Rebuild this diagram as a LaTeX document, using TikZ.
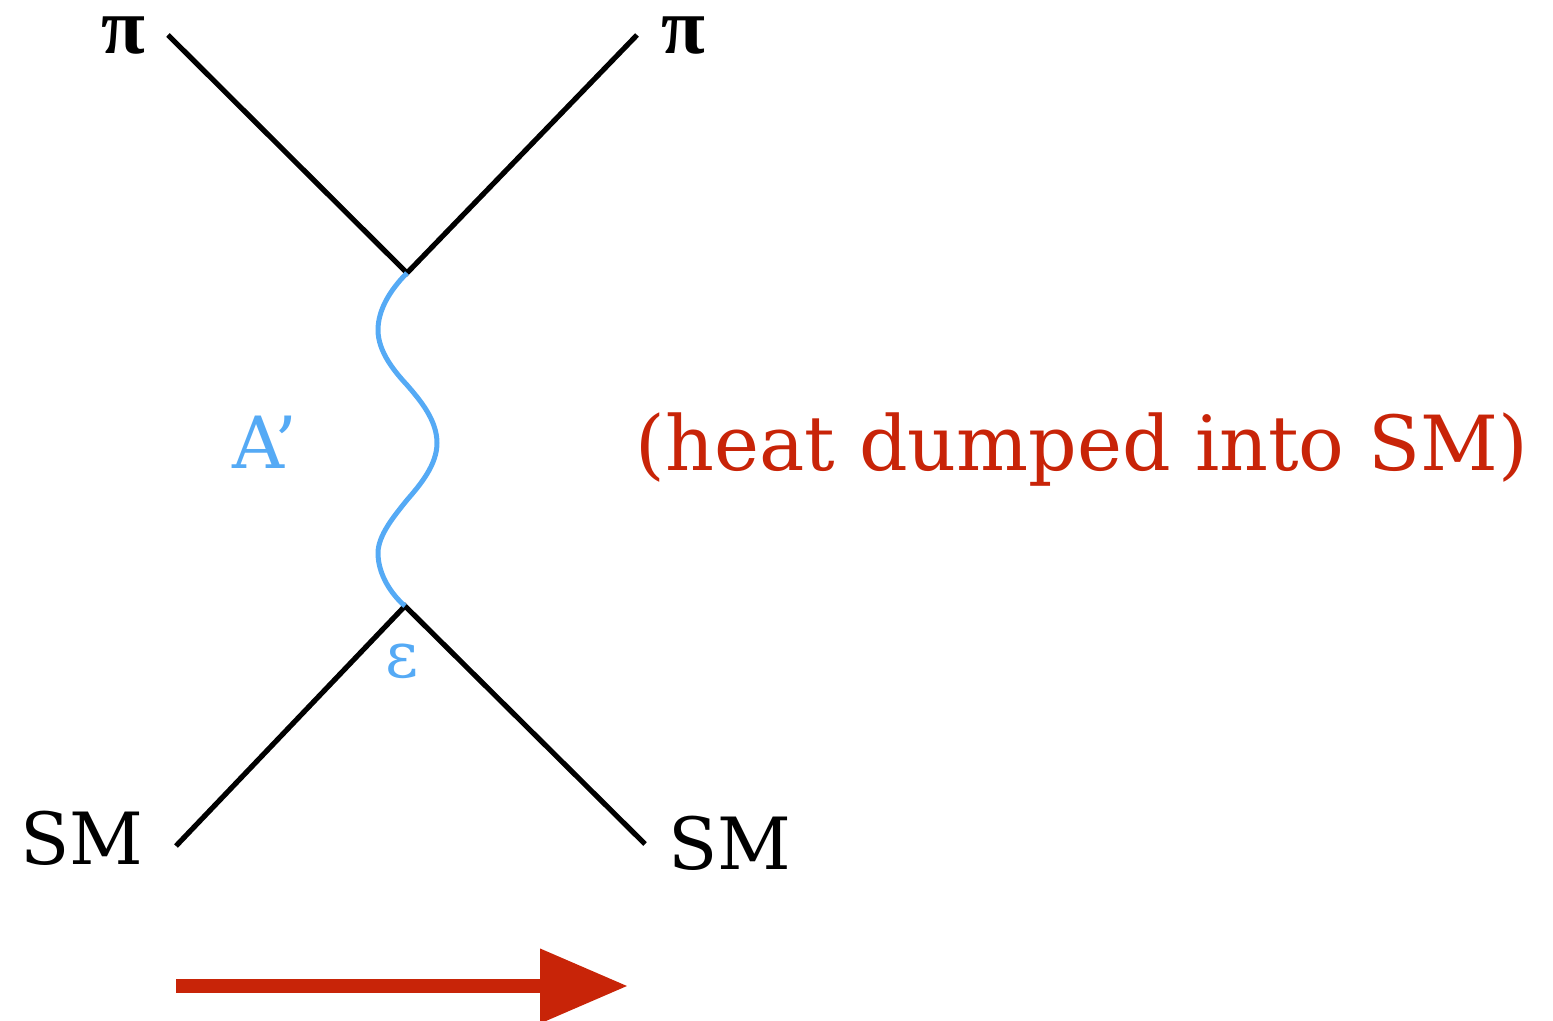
\documentclass[tikz,border=0pt]{standalone}
\usepackage{fontspec}
\setmainfont{DejaVu Serif}
\newfontfamily\pifont{Liberation Serif}
\usetikzlibrary{arrows.meta}
\definecolor{wblue}{RGB}{85,170,245}
\definecolor{hred}{RGB}{200,36,8}
\tikzset{
  leg/.style={draw=black,line width=2.6pt},
  wave/.style={draw=wblue,line width=2.5pt},
  lbl/.style={inner sep=0pt,font=\fontsize{36}{40}\selectfont},
  greek/.style={inner sep=0pt,font=\pifont\bfseries\fontsize{40}{44}\selectfont},
}
\begin{document}
\begin{tikzpicture}[x=0.5pt,y=-0.5pt]
\useasboundingbox (0,0) rectangle (1553,1021);
\coordinate (v1) at (407,273);
\coordinate (v2) at (405,606);
\coordinate (tl) at (168,35);
\coordinate (tr) at (637,35);
\coordinate (bl) at (176,846);
\coordinate (br) at (645,844);
\coordinate (as) at (176,986);
\coordinate (ae) at (628,986);
\draw[leg] (tl) -- (v1) -- (tr);
\draw[leg] (bl) -- (v2) -- (br);
\draw[wave] (v1) .. controls (390,290) and (378,310) .. (378,330)
  .. controls (378,352) and (395,372) .. (407,385)
  .. controls (420,400) and (437,420) .. (437,443)
  .. controls (437,465) and (420,485) .. (407,500)
  .. controls (395,515) and (378,535) .. (378,553)
  .. controls (378,575) and (392,595) .. (v2);
\node[greek] (pl) at (123,36) {π};
\node[greek] (pr) at (683,36) {π};
\node[lbl,text=wblue] (ap) at (265,442) {A’};
\node[inner sep=0pt,text=wblue,font=\fontsize{32}{36}\selectfont] (eps) at (402,661) {ε};
\node[lbl] (sml) at (82,838) {SM};
\node[lbl] (smr) at (730,843) {SM};
\node[lbl,text=hred,font=\fontsize{38}{42}\selectfont] (heat) at (1082,450) {(heat dumped into SM)};
\draw[hred,line width=7pt,-{Triangle[length=44pt,width=35.5pt]}] (as) -- (ae);
\end{tikzpicture}
\end{document}
